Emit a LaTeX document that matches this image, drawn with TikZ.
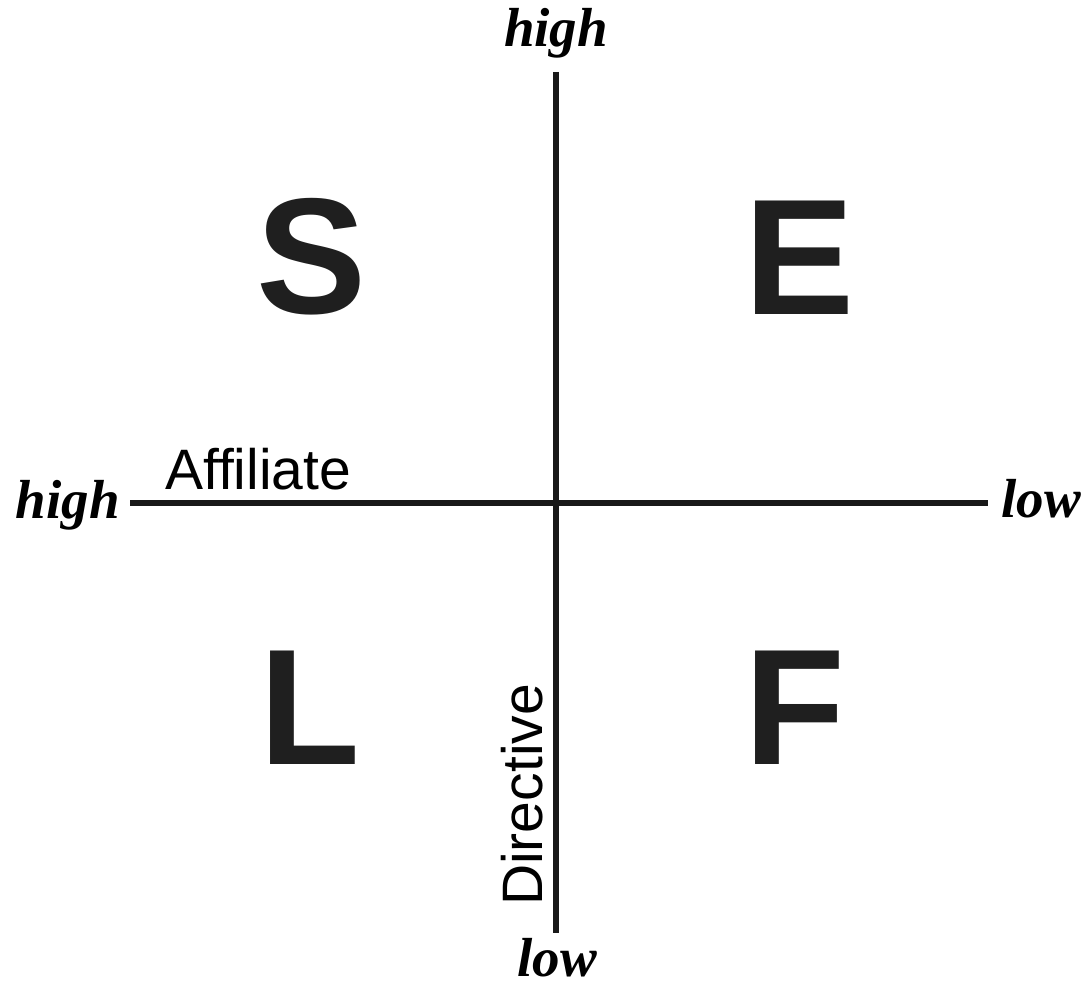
\documentclass[tikz,border=0pt]{standalone}
\usepackage{fontspec}
\setmainfont{Liberation Serif}
\setsansfont{Liberation Sans}
\begin{document}
\begin{tikzpicture}[x=1pt,y=-1pt,
  axis/.style={line width=6.5pt, black!90},
  endlabel/.style={inner sep=0pt, font=\fontsize{55}{55}\selectfont\bfseries\itshape},
  axlabel/.style={inner sep=0pt, font=\fontsize{57}{57}\selectfont\sffamily},
  quad/.style={inner sep=0pt, font=\fontsize{165}{165}\selectfont\sffamily\bfseries, text=black!88}]
\useasboundingbox (0,0) rectangle (1089,987);
\coordinate (vt) at (556,72);
\coordinate (vb) at (556,933);
\coordinate (hl) at (130,503);
\coordinate (hr) at (988,503);
\draw[axis] (vt) -- (vb);
\draw[axis] (hl) -- (hr);
\node[endlabel, anchor=base] (thigh) at (556,47) {high};
\node[endlabel, anchor=base east] (lhigh) at (120,518) {high};
\node[endlabel, anchor=base west] (rlow) at (1001,517) {low};
\node[endlabel, anchor=base] (blow) at (557,976) {low};
\node[axlabel, anchor=base west] (aff) at (165,489) {Affiliate};
\node[axlabel, anchor=base west, rotate=90] (dir) at (542,906) {Directive};
\node[quad] (S) at (312,257) {S};
\node[quad] (E) at (800,258) {E};
\node[quad] (L) at (310,708) {L};
\node[quad] (F) at (795,708) {F};
\end{tikzpicture}
\end{document}
